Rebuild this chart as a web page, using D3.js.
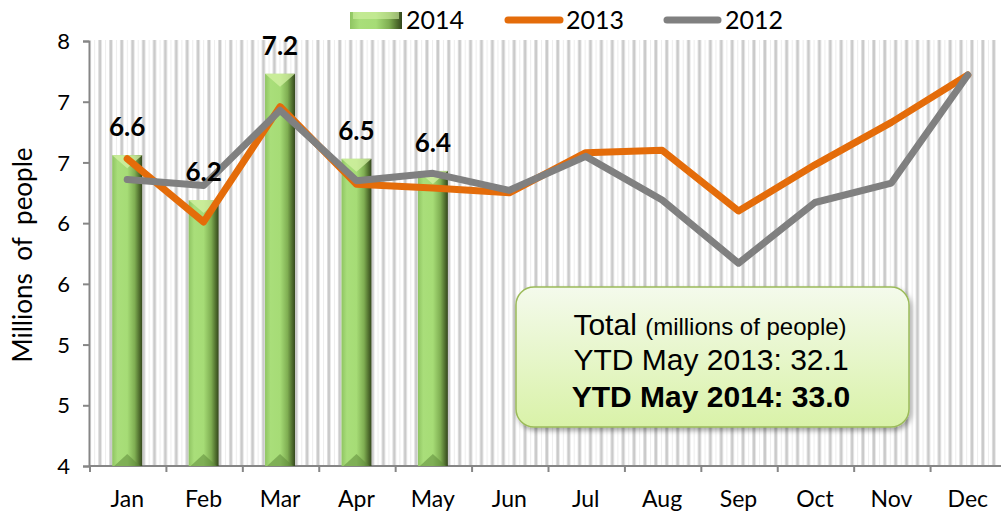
<!DOCTYPE html>
<html>
<head>
<meta charset="utf-8">
<script src="https://cdn.jsdelivr.net/npm/d3@7"></script>
<style>
  body { margin: 0; background: #fff; }
  text { font-family: Lato, "Open Sans", sans-serif; }
</style>
</head>
<body>
<div id="wrapper"></div>
<script>
// data
const months = ["Jan", "Feb", "Mar", "Apr", "May", "Jun", "Jul", "Aug", "Sep", "Oct", "Nov", "Dec"];
const values2014 = [6.56, 6.19, 7.23, 6.53, 6.43];
const values2013 = [6.53, 6.01, 6.96, 6.32, 6.29, 6.25, 6.58, 6.6, 6.1, 6.48, 6.83, 7.22];
const values2012 = [6.36, 6.31, 6.93, 6.35, 6.41, 6.27, 6.55, 6.19, 5.67, 6.17, 6.33, 7.22];
const yTicks = [4, 4.5, 5, 5.5, 6, 6.5, 7, 7.5];
const seriesNames = ["2014", "2013", "2012"];
const boxLines = ["YTD May 2013: 32.1", "YTD May 2014: 33.0"];

const width = 1001;
const height = 514;
const margin = { top: 41, right: -5, bottom: 48, left: 89 };

const svg = d3
  .select("#wrapper")
  .append("svg")
  .attr("width", width)
  .attr("height", height);

const defs = svg.append("defs");

// striped background pattern
const stripes = defs
  .append("pattern")
  .attr("id", "stripes")
  .attr("patternUnits", "userSpaceOnUse")
  .attr("width", 10.9)
  .attr("height", 10);
stripes.append("rect").attr("x", 0).attr("width", 1).attr("height", 10).attr("fill", "#dedede");
stripes.append("rect").attr("x", 1).attr("width", 2).attr("height", 10).attr("fill", "#cacaca");
stripes.append("rect").attr("x", 3).attr("width", 1).attr("height", 10).attr("fill", "#e8e8e8");
stripes.append("rect").attr("x", 7).attr("width", 1).attr("height", 10).attr("fill", "#ececec");

// bar gradient
const barGrad = defs
  .append("linearGradient")
  .attr("id", "barGrad")
  .attr("x1", 0)
  .attr("x2", 1)
  .attr("y1", 0)
  .attr("y2", 0);
[
  [0, "#8fc462"],
  [0.18, "#a9de7a"],
  [0.5, "#a6dc76"],
  [0.75, "#7fae52"],
  [0.9, "#51702f"],
  [1, "#34471d"],
].forEach(([o, c]) => barGrad.append("stop").attr("offset", o).attr("stop-color", c));

// annotation box gradient
const boxGrad = defs
  .append("linearGradient")
  .attr("id", "boxGrad")
  .attr("x1", 0)
  .attr("x2", 0)
  .attr("y1", 0)
  .attr("y2", 1);
boxGrad.append("stop").attr("offset", 0).attr("stop-color", "#f4faec");
boxGrad.append("stop").attr("offset", 1).attr("stop-color", "#d9f2a8");

const shadow = defs.append("filter").attr("id", "shadow").attr("x", -0.1).attr("y", -0.1).attr("width", 1.3).attr("height", 1.3);
shadow.append("feDropShadow").attr("dx", 2).attr("dy", 3).attr("stdDeviation", 2.5).attr("flood-color", "#000").attr("flood-opacity", 0.35);

// scales
const x = d3
  .scaleBand()
  .domain(months)
  .range([margin.left, width - margin.right])
  .padding(0);
const y = d3
  .scaleLinear()
  .domain([4, 7.5])
  .range([height - margin.bottom, margin.top]);

const xc = (m) => x(m) + x.bandwidth() / 2;

// plot background
svg
  .append("rect")
  .attr("x", margin.left + 2)
  .attr("y", margin.top - 1)
  .attr("width", 996 - margin.left - 2)
  .attr("height", y(4) - margin.top + 1)
  .attr("fill", "url(#stripes)");

// y axis
const yAxis = svg
  .append("g")
  .attr("transform", `translate(${margin.left},0)`)
  .call(
    d3.axisLeft(y).tickValues(yTicks).tickFormat(d3.format(".0f")).tickSize(6).tickPadding(13)
  );
yAxis.select(".domain").attr("stroke", "#868686").attr("stroke-width", 2);
yAxis.selectAll(".tick line").attr("stroke", "#868686").attr("stroke-width", 2);
yAxis.selectAll(".tick text").attr("font-size", 22).attr("fill", "#000").attr("font-family", "Lato").attr("dy", "0.35em");

// x axis
svg
  .append("line")
  .attr("x1", margin.left)
  .attr("x2", width)
  .attr("y1", y(4))
  .attr("y2", y(4))
  .attr("stroke", "#868686")
  .attr("stroke-width", 2);
svg
  .selectAll(".xtick")
  .data(months)
  .join("line")
  .attr("class", "xtick")
  .attr("x1", (d) => x(d) + 1)
  .attr("x2", (d) => x(d) + 1)
  .attr("y1", y(4))
  .attr("y2", y(4) + 6)
  .attr("stroke", "#868686")
  .attr("stroke-width", 2);
svg
  .selectAll(".xlabel")
  .data(months)
  .join("text")
  .attr("class", "xlabel")
  .attr("x", (d) => xc(d))
  .attr("y", 507)
  .attr("text-anchor", "middle")
  .attr("font-size", 23)
  .text((d) => d);

// y title
svg
  .append("text")
  .attr("transform", `translate(32, 255) rotate(-90)`)
  .attr("text-anchor", "middle")
  .attr("font-size", 26)
  .attr("word-spacing", 6)
  .text("Millions of people");

// bars 2014
const barW = 30;
const bars = svg
  .selectAll(".bar")
  .data(values2014)
  .join("g")
  .attr("class", "bar");
bars
  .append("rect")
  .attr("x", (d, i) => xc(months[i]) - barW / 2)
  .attr("y", (d) => y(d))
  .attr("width", barW)
  .attr("height", (d) => y(4) - y(d))
  .attr("fill", "url(#barGrad)");
bars
  .append("path")
  .attr("d", (d, i) => {
    const x0 = xc(months[i]) - barW / 2;
    const t = y(d);
    return `M${x0},${t}L${x0 + barW},${t}L${x0 + barW / 2},${t + 13}Z`;
  })
  .attr("fill", "#d4f2a4")
  .attr("opacity", 0.75);
bars
  .append("path")
  .attr("d", (d, i) => {
    const x0 = xc(months[i]) - barW / 2;
    const b = y(4);
    return `M${x0 + 2},${b}L${x0 + barW - 2},${b}L${x0 + barW / 2},${b - 12}Z`;
  })
  .attr("fill", "#5f8a3a")
  .attr("opacity", 0.55);

// lines
const line = d3
  .line()
  .x((d, i) => xc(months[i]))
  .y((d) => y(d));

svg
  .append("path")
  .datum(values2013)
  .attr("d", line)
  .attr("fill", "none")
  .attr("stroke", "#e46c0a")
  .attr("stroke-width", 7)
  .attr("stroke-linejoin", "round")
  .attr("stroke-linecap", "round");

svg
  .append("path")
  .datum(values2012)
  .attr("d", line)
  .attr("fill", "none")
  .attr("stroke", "#808080")
  .attr("stroke-width", 7)
  .attr("stroke-linejoin", "round")
  .attr("stroke-linecap", "round");

// bar labels
svg
  .selectAll(".barlabel")
  .data(values2014)
  .join("text")
  .attr("class", "barlabel")
  .attr("x", (d, i) => xc(months[i]))
  .attr("y", (d) => y(d) - 19)
  .attr("text-anchor", "middle")
  .attr("font-size", 26)
  .attr("font-weight", "bold")
  .text((d) => d3.format(".1f")(d));

// legend
const legend = svg.append("g");
legend
  .append("rect")
  .attr("x", 350)
  .attr("y", 12)
  .attr("width", 52)
  .attr("height", 17)
  .attr("fill", "url(#barGrad)");
legend
  .append("rect")
  .attr("x", 353)
  .attr("y", 12)
  .attr("width", 46)
  .attr("height", 7)
  .attr("fill", "#d4f2a4")
  .attr("opacity", 0.6);
legend
  .append("line")
  .attr("x1", 508)
  .attr("x2", 560)
  .attr("y1", 20)
  .attr("y2", 20)
  .attr("stroke", "#e46c0a")
  .attr("stroke-width", 7)
  .attr("stroke-linecap", "round");
legend
  .append("line")
  .attr("x1", 667)
  .attr("x2", 718)
  .attr("y1", 20)
  .attr("y2", 20)
  .attr("stroke", "#808080")
  .attr("stroke-width", 7)
  .attr("stroke-linecap", "round");
legend
  .selectAll("text")
  .data(seriesNames)
  .join("text")
  .attr("x", (d, i) => [406, 566, 725][i])
  .attr("y", 29)
  .attr("font-size", 25)
  .text((d) => d);

// annotation box
const box = svg.append("g");
box
  .append("rect")
  .attr("x", 516)
  .attr("y", 287)
  .attr("width", 393)
  .attr("height", 140)
  .attr("rx", 18)
  .attr("fill", "url(#boxGrad)")
  .attr("stroke", "#9bbb59")
  .attr("stroke-width", 1.5)
  .attr("filter", "url(#shadow)");
const t1 = box
  .append("text")
  .attr("x", 710)
  .attr("y", 335)
  .attr("text-anchor", "middle")
  .style("font-family", "'Liberation Sans', Arial, sans-serif");
t1.append("tspan").attr("font-size", 30).text("Total ");
t1.append("tspan").attr("font-size", 24).text("(millions of people)");
box
  .selectAll(".boxline")
  .data(boxLines)
  .join("text")
  .attr("class", "boxline")
  .attr("x", 711)
  .attr("y", (d, i) => [370, 407][i])
  .attr("text-anchor", "middle")
  .attr("font-size", 30)
  .attr("font-weight", (d, i) => (i === 1 ? "bold" : "normal"))
  .style("font-family", "'Liberation Sans', Arial, sans-serif")
  .text((d) => d);
</script>
</body>
</html>
